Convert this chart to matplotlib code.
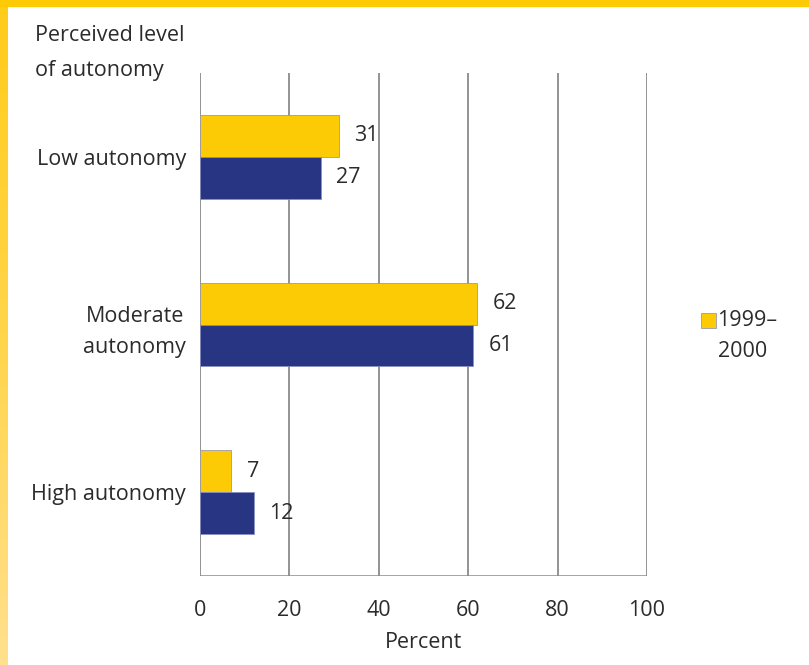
import numpy as np
import matplotlib
matplotlib.use('Agg')
import matplotlib.pyplot as plt
from matplotlib.patches import Rectangle
from matplotlib.colors import LinearSegmentedColormap

plt.rcParams['font.family'] = ['Open Sans', 'DejaVu Sans']

# data
categories = ['Low autonomy', 'Moderate\nautonomy', 'High autonomy']
vals_1999 = [31, 62, 7]
vals_other = [27, 61, 12]
legend_label = '1999–\n2000'
xticks = [0, 20, 40, 60, 80, 100]

yellow = '#FCCB06'
blue = '#283583'
grid_col = '#8a8a8a'
txt_col = '#2b2b2b'
fs = 15.5

W, H = 809, 665
fig = plt.figure(figsize=(W / 100, H / 100), dpi=100)
fig.patch.set_facecolor('white')

# yellow frame (top bar + left bar fading downwards)
fig.patches.append(Rectangle((0, 1 - 6 / H), 1, 6 / H, transform=fig.transFigure,
                             color=yellow, zorder=0))
bax = fig.add_axes([0, 0, 8 / W, 1])
cmap = LinearSegmentedColormap.from_list('b', ['#FFCC1A', '#FFD54A', '#FFE08C'])
bax.imshow(np.linspace(0, 1, 100).reshape(-1, 1), aspect='auto', cmap=cmap)
bax.axis('off')

# main axes: x 0..100 -> px 200..647, y -0.5..2.5 -> px 73..576
ax = fig.add_axes([200 / W, 1 - 576 / H, 447 / W, 503 / H])
ax.set_xlim(0, 100)
ax.set_ylim(2.5, -0.5)

y = np.arange(len(categories))
h = 0.25
ax.barh(y - h / 2, vals_1999, height=h, color=yellow, edgecolor='#9a9aa8',
        linewidth=0.6, zorder=3, label=legend_label)
ax.barh(y + h / 2, vals_other, height=h, color=blue, edgecolor='#8a90c0',
        linewidth=0.6, zorder=3)

for i in range(len(categories)):
    ax.text(vals_1999[i] + 3.5, y[i] - h / 2, str(vals_1999[i]), va='center', ha='left',
            fontsize=fs, color=txt_col)
    ax.text(vals_other[i] + 3.5, y[i] + h / 2, str(vals_other[i]), va='center', ha='left',
            fontsize=fs, color=txt_col)

for x in xticks:
    ax.axvline(x, color=grid_col, linewidth=1.3, zorder=1)
ax.axhline(2.5, color=grid_col, linewidth=1.8, zorder=1)

for s in ax.spines.values():
    s.set_visible(False)
ax.set_xticks(xticks)
ax.set_xticklabels([str(x) for x in xticks], fontsize=fs, color=txt_col)
ax.tick_params(axis='x', length=0, pad=17)
ax.set_yticks(y)
ax.set_yticklabels(categories, fontsize=fs, color=txt_col, ha='right',
                   multialignment='center', linespacing=1.6)
ax.tick_params(axis='y', length=0, pad=10)
ax.set_xlabel('Percent', fontsize=fs, color=txt_col, labelpad=8)

fig.text(35 / W, 1 - 53 / H, 'Perceived level\nof autonomy', fontsize=fs, color=txt_col,
         va='center', ha='left', linespacing=1.9)

leg = fig.legend(loc='center left', bbox_to_anchor=(682 / W, 1 - 336 / H), frameon=False,
                 fontsize=fs, handlelength=0.7, handleheight=0.7, handletextpad=0.05,
                 labelcolor=txt_col)
for t in leg.get_texts():
    t.set_linespacing(1.65)
# put the swatch next to the first line of the label
hp = leg.legend_handles[0]
hp.set_y(hp.get_y() + 11.5)

fig.savefig('out.png', dpi=100)
